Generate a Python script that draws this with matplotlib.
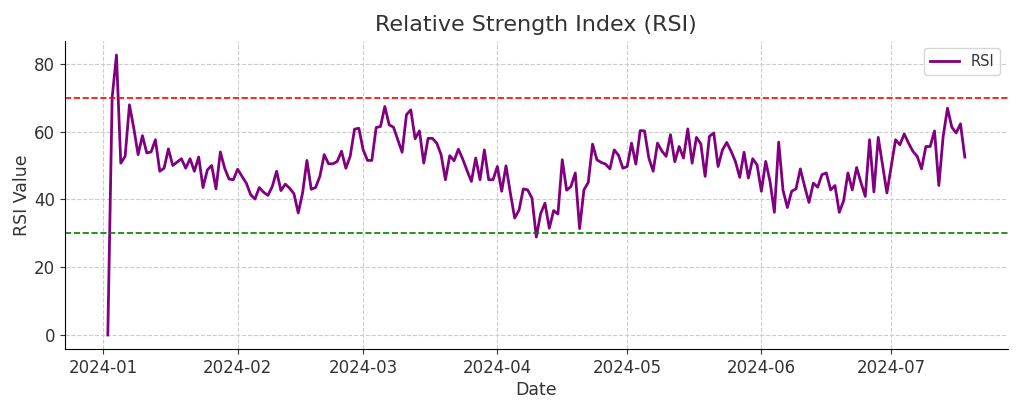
import pandas as pd
import matplotlib
matplotlib.use("Agg")
import matplotlib.pyplot as plt
import matplotlib.dates as mdates

# daily RSI readings, Jan 2 -> Jul 18 2024
rsi_jan = [0, 70, 82.6, 50.7, 52.7, 67.9, 61, 53.2, 58.8, 53.7, 54, 57.6, 48.3, 49.2, 54.9,
           50, 51, 52, 49.2, 52, 48.3, 52.5, 43.5, 48.7, 50, 43.1, 54, 49.2, 46, 45.8]
rsi_feb = [48.9, 46.8, 44.8, 41.4, 40.1, 43.5, 42.1, 41.2, 43.8, 48.3, 42.6, 44.5, 43.3, 41.7, 36,
           41.9, 51.5, 43, 43.5, 46.8, 53.2, 50.5, 50.5, 51.2, 54.2, 49.2, 52.7, 60.7, 61]
rsi_mar = [54.6, 51.5, 51.5, 61.2, 61.5, 67.4, 62, 61.3, 57.6, 53.9, 65, 66.4, 57.9, 60.2, 50.7, 58,
           58, 56.6, 53.2, 45.8, 52.9, 51.4, 54.8, 51.9, 48.5, 45.3, 52.2, 45.8, 54.6, 45.8, 45.8]
rsi_apr = [49.7, 42.4, 49.9, 41.9, 34.5, 36.8, 43.1, 42.8, 40.4, 28.9, 35.8, 38.9, 31.5, 36.7, 35.7,
           51.7, 42.7, 43.8, 47.8, 31.4, 42.8, 45, 56.3, 51.7, 50.9, 50.4, 49, 54.6, 53, 49.2]
rsi_may = [49.7, 56.6, 50.4, 60.3, 60.2, 52.2, 48.3, 56.6, 54.3, 52.7, 59.1, 51.1, 55.6, 52.2, 60.8, 50.7,
           58.3, 56.4, 46.8, 58.6, 59.6, 49.7, 54.6, 56.8, 54.2, 51.2, 46.5, 53.9, 46.3, 52, 50.2]
rsi_jun = [42.4, 51.2, 45.3, 36.2, 56.9, 42.7, 37.6, 42.4, 43.1, 49, 43.8, 39.1, 44.8, 43.6, 47.3,
           47.8, 42.8, 44.1, 36.2, 39.6, 47.8, 42.8, 49.4, 45, 40.9, 57.6, 42.2, 58.3, 50.2, 41.9]
rsi_jul = [49.7, 57.6, 56.1, 59.3, 56.6, 54.2, 52.7, 49, 55.6, 55.6, 60.2, 44.1, 58.6, 66.9, 61.3,
           59.6, 62.3, 52.5]

rsi = rsi_jan + rsi_feb + rsi_mar + rsi_apr + rsi_may + rsi_jun + rsi_jul
dates = pd.date_range("2024-01-02", periods=len(rsi), freq="D")

overbought = 70
oversold = 30

plt.rcParams["text.color"] = "#333333"
plt.rcParams["axes.labelcolor"] = "#333333"
plt.rcParams["xtick.color"] = "#333333"
plt.rcParams["ytick.color"] = "#333333"

fig, ax = plt.subplots(figsize=(10.23, 4.09), dpi=100)
fig.subplots_adjust(left=0.0635, right=0.985, top=0.8998, bottom=0.1467)

ax.plot(dates, rsi, color="purple", linewidth=2, label="RSI")
ax.axhline(overbought, color="red", linestyle="--", linewidth=1.2)
ax.axhline(oversold, color="green", linestyle="--", linewidth=1.2)

ax.set_title("Relative Strength Index (RSI)", fontsize=16, pad=7)
ax.set_xlabel("Date", fontsize=12.5, labelpad=3)
ax.set_ylabel("RSI Value", fontsize=12.5, labelpad=2)
ax.tick_params(labelsize=12)
ax.xaxis.set_major_locator(mdates.MonthLocator())
ax.xaxis.set_major_formatter(mdates.DateFormatter("%Y-%m"))

ax.grid(True, linestyle="--", color="#cccccc", linewidth=0.8)
ax.spines["top"].set_visible(False)
ax.spines["right"].set_visible(False)
ax.legend(loc="upper right", fontsize=10.5)

fig.savefig("out.png", dpi=100)
